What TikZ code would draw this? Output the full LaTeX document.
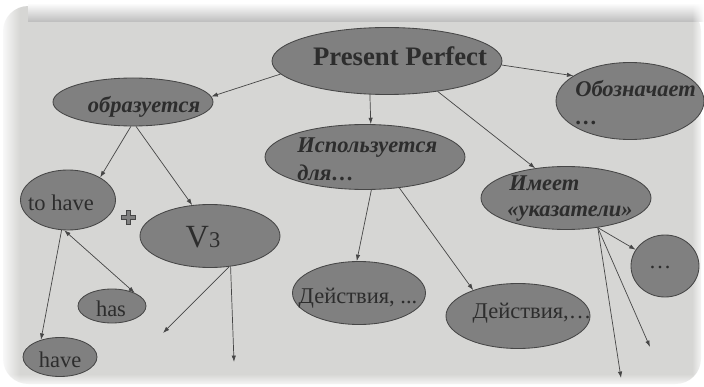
\documentclass[tikz,border=0pt]{standalone}
\usepackage{fontspec}
\setmainfont{Liberation Serif}
\usetikzlibrary{shapes.geometric,arrows.meta,fadings}

\definecolor{paper}{RGB}{214,214,212}
\definecolor{band}{RGB}{188,188,188}
\definecolor{blob}{RGB}{128,128,128}
\definecolor{rim}{RGB}{70,70,70}
\definecolor{ink}{RGB}{45,45,45}

\newcommand\ovalbi{\fontsize{16}{19}\selectfont\bfseries\itshape}
\newcommand\ovalrm{\fontsize{16}{19}\selectfont}

\tikzset{
  bubble/.style 2 args={ellipse, draw=rim, fill=blob, line width=0.6pt,
    minimum width=#1*0.025cm, minimum height=#2*0.025cm, inner sep=0pt},
  caption/.style={text=ink, inner sep=0pt, anchor=base},
  link/.style={draw=rim, line width=0.5pt, -{Latex[length=1.6mm,width=1.1mm]}},
  twoway/.style={draw=rim, line width=0.5pt,
    {Latex[length=1.6mm,width=1.1mm]}-{Latex[length=1.6mm,width=1.1mm]}},
}

\begin{document}
\begin{tikzpicture}[x=0.025cm,y=-0.025cm]
     \useasboundingbox (0,0) rectangle (704,387);
     % photographed sheet
     \fill[white] (0,0) rectangle (704,387);
     \fill[paper, rounded corners=18] (3,6) rectangle (701,384);
     \shade[top color=white, bottom color=band] (28,3) rectangle (704,22);
     \fill[white, path fading=east] (0,0) rectangle (20,387);
     \fill[white, path fading=west] (692,0) rectangle (704,387);
     \fill[white, path fading=north] (0,374) rectangle (704,387);

     % ovals
     \node[bubble={230}{67}] (pp) at (387,61) {};
     \node[bubble={160}{48}] (obr) at (133,102) {};
     \node[bubble={148}{77}] (oboz) at (630,101) {};
     \node[bubble={200}{65}] (isp) at (365,157) {};
     \node[bubble={170}{63}] (imeet) at (566,198) {};
     \node[bubble={95}{60}] (tohave) at (68,200) {};
     \node[bubble={140}{63}] (vthree) at (210,236) {};
     \node[bubble={68}{34}] (has) at (112,306) {};
     \node[bubble={74}{39}] (have) at (60,357) {};
     \node[bubble={133}{63}] (deistA) at (359,293) {};
     \node[bubble={144}{65}] (deistB) at (518,316) {};
     \node[bubble={68}{62}] (dots) at (665,266) {};

     % texts
     \node[caption] (ppText) at (400,66) {\fontsize{19}{22}\selectfont\bfseries Present Perfect};
     \node[caption] (obrText) at (144,112) {\ovalbi образуется};
     \node[caption, anchor=base west] (ozbText) at (575,97) {\ovalbi Обозначает};
     \node[caption, anchor=base west] (ozbDots) at (575,124) {\ovalbi …};
     \node[caption, anchor=base west] (ispText) at (297,152) {\ovalbi Используется};
     \node[caption, anchor=base west] (ispFor) at (297,180) {\ovalbi для…};
     \node[caption, anchor=base west] (imText) at (509,190) {\ovalbi Имеет};
     \node[caption, anchor=base west] (imPtr) at (507,216) {\ovalbi «указатели»};
     \node[caption] (thText) at (61,210) {\ovalrm to have};
     \node[caption] (vText) at (203,247) {{\fontsize{23}{25}\selectfont V}{\fontsize{16}{18}\selectfont 3}};
     \node[caption] (hasText) at (111,316) {\ovalrm has};
     \node[caption] (haveText) at (60,367) {\ovalrm have};
     \node[caption] (daText) at (358,303) {\ovalrm Действия, ...};
     \node[caption] (dbText) at (532,318) {\ovalrm Действия,…};
     \node[caption] (dotsText) at (660,268) {\ovalrm …};

     % plus sign
     \filldraw[fill=blob, draw=rim, line width=0.5pt]
       (126,210) -- (130,210) -- (130,215) -- (135,215) -- (135,219) -- (130,219)
       -- (130,224) -- (126,224) -- (126,219) -- (121,219) -- (121,215) -- (126,215) -- cycle;

     % loose arrow ends
     \coordinate (endA) at (163,333);
     \coordinate (endB) at (234,362);
     \coordinate (endC) at (650,347);
     \coordinate (endD) at (621,378);

     % connectors
     \draw[link] (pp.187) -- (obr.4);
     \draw[link] (pp.-2) -- (oboz.156);
     \draw[link] (pp.243) -- (isp.80);
     \draw[link] (pp.-31) -- (imeet.136);
     \draw[link] (obr.265) -- (tohave.35);
     \draw[link] (obr.277) -- (vthree.120);
     \draw[link] (tohave.258) -- (have.138);
     \draw[twoway] (tohave.263) -- (has.30);
     \draw[link] (vthree.302) -- (endA);
     \draw[link] (vthree.304) -- (endB);
     \draw[link] (isp.281) -- (deistA.94);
     \draw[link] (isp.318) -- (deistB.150);
     \draw[link] (imeet.-43) -- (dots.151);
     \draw[link] (imeet.-43) -- (endC);
     \draw[link] (imeet.-43) -- (endD);
\end{tikzpicture}
\end{document}
